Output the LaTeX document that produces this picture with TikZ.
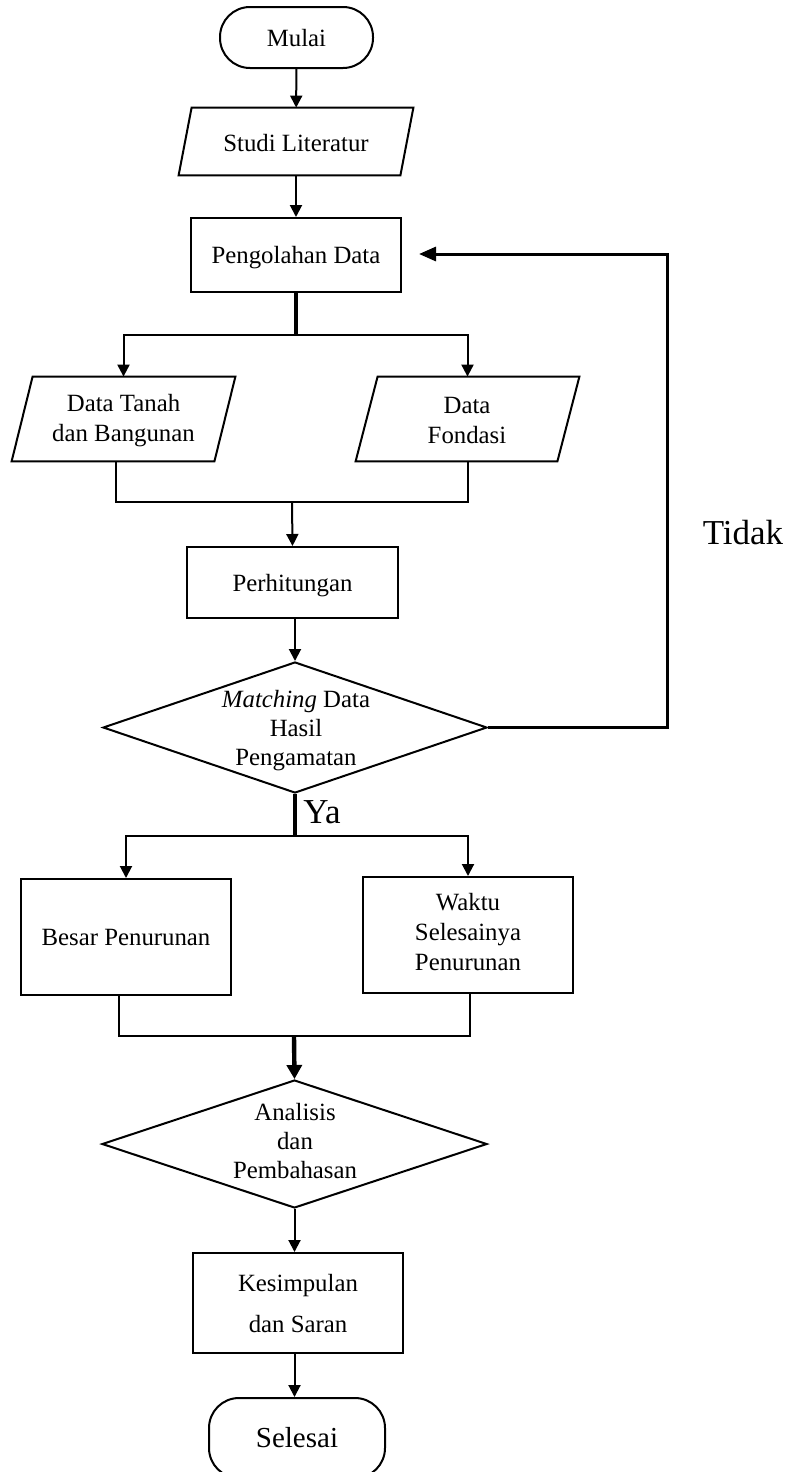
\documentclass[tikz,border=0pt]{standalone}
\usepackage{fontspec}
\setmainfont{Liberation Serif}
\usetikzlibrary{shapes.geometric, arrows.meta, calc}
\newcommand\drawpara[2]{\draw[ln] (#1.south west) -- ([xshift=-#2]#1.south east) -- (#1.north east) -- ([xshift=#2]#1.north west) -- cycle;}
\newcommand\lowr[2]{\raisebox{-#1}[\height][\depth]{#2}}
\begin{document}
\begin{tikzpicture}[x=0.5pt,y=-0.5pt,
  every node/.style={font=\fontsize{12.4}{15}\selectfont},
  ln/.style={line width=1pt},
  box/.style={draw, line width=1pt, rectangle, inner sep=0pt, align=center},
  term/.style={box, rounded corners=15pt},
  iobox/.style={rectangle, inner sep=0pt, align=center},
  txt/.style={align=center, inner sep=0pt},
  dia/.style={diamond, draw, line width=1pt, inner sep=0pt},
  arr/.style={ln, -{Triangle[length=6pt,width=6pt]}},
  thickln/.style={line width=2.2pt},
  big/.style={font=\fontsize{17.5}{20}\selectfont}
]
\useasboundingbox (0,0) rectangle (789,1472);

% start
\node[term, minimum width=76.5pt, minimum height=30.5pt] (mulai) at (296.5,37.5) {\lowr{0.5pt}{Mulai}};
\node[iobox, minimum width=117pt, minimum height=33.5pt] (studi) at (296,141.5) {\lowr{1pt}{Studi Literatur}};
\drawpara{studi}{6.5pt}
\node[box, minimum width=105pt, minimum height=37pt] (peng) at (296,255) {\lowr{1.5pt}{Pengolahan Data}};

\draw[arr] (mulai) -- (studi);
\draw[arr] (studi) -- (peng);

% data inputs
\node[iobox, minimum width=111.5pt, minimum height=42pt] (tanah) at (123.5,419) {};
\drawpara{tanah}{10.5pt}
\node[txt] (tanaht) at (123.5,421) {Data Tanah\\dan Bangunan};
\node[iobox, minimum width=111.5pt, minimum height=42pt] (fond) at (467.5,419) {};
\drawpara{fond}{11pt}
\node[txt] (fondt) at (467,420) {Data\\Fondasi};

\coordinate (b1) at (296,335);
\draw[thickln] (peng.south) -- (b1);
\draw[arr] (b1) -| (tanah.north);
\draw[arr] (b1) -| (fond.north);

% perhitungan
\node[box, minimum width=105.5pt, minimum height=35.5pt] (perh) at (292.5,582.5) {\lowr{1.5pt}{Perhitungan}};
\coordinate (j1) at (292,502);
\draw[ln] ([xshift=-3.75pt]tanah.south) |- (j1);
\draw[ln] (fond.south) |- (j1);
\draw[arr] (j1) -- (perh.north);

% decision
\node[dia, minimum width=192pt, minimum height=65.5pt] (match) at (295,727.5) {};
\node[txt, font=\fontsize{12.4}{14.5}\selectfont] (matcht) at (296,731) {\textit{Matching} Data\\Hasil\\Pengamatan};
\draw[arr] (perh.south -| match.north) -- (match.north);

% loop back (Tidak)
\coordinate (lb) at (667,254);
\coordinate (le) at (419,254);
\draw[line width=1.5pt, -{Triangle[length=8.5pt,width=7pt]}] (match.east) -| (lb) -- (le);
\node[big, inner sep=0pt] (tidak) at (743,533) {Tidak};

% Ya branch
\coordinate (b2) at (295,836);
\draw[thickln] (match.south) -- (b2);
\node[big, anchor=west, inner sep=0pt] (ya) at (303,812) {Ya};

\node[box, minimum width=105pt, minimum height=58pt] (besar) at (126,937) {Besar Penurunan};
\node[box, minimum width=105pt, minimum height=58pt] (waktu) at (468,935) {};
\node[txt] (waktut) at (468,932) {Waktu\\Selesainya\\Penurunan};
\draw[arr] (b2) -| (besar.north);
\draw[arr] (b2) -| (waktu.north);

% analysis
\node[dia, minimum width=192.5pt, minimum height=64pt] (anal) at (294.5,1144) {};
\node[txt, font=\fontsize{12.4}{14.5}\selectfont] (analt) at (295,1141) {Analisis\\dan\\Pembahasan};
\coordinate (j2) at (294,1036);
\draw[ln] ([xshift=-3.5pt]besar.south) |- (j2);
\draw[ln] ([xshift=1pt]waktu.south) |- (j2);
\draw[thickln, -{Triangle[length=7pt,width=7.5pt]}] (j2) -- (anal.north);

% conclusion
\node[box, minimum width=105pt, minimum height=50pt, font=\fontsize{12.4}{20.5}\selectfont] (kes) at (298,1303) {Kesimpulan\\dan Saran};
\draw[arr] (anal.south) -- (anal.south |- kes.north);

\node[term, minimum width=88pt, minimum height=40pt, font=\fontsize{14.5}{17}\selectfont] (sel) at (297,1438) {Selesai};
\draw[arr] (kes.south -| anal.south) -- (sel.north -| anal.south);
\end{tikzpicture}
\end{document}
